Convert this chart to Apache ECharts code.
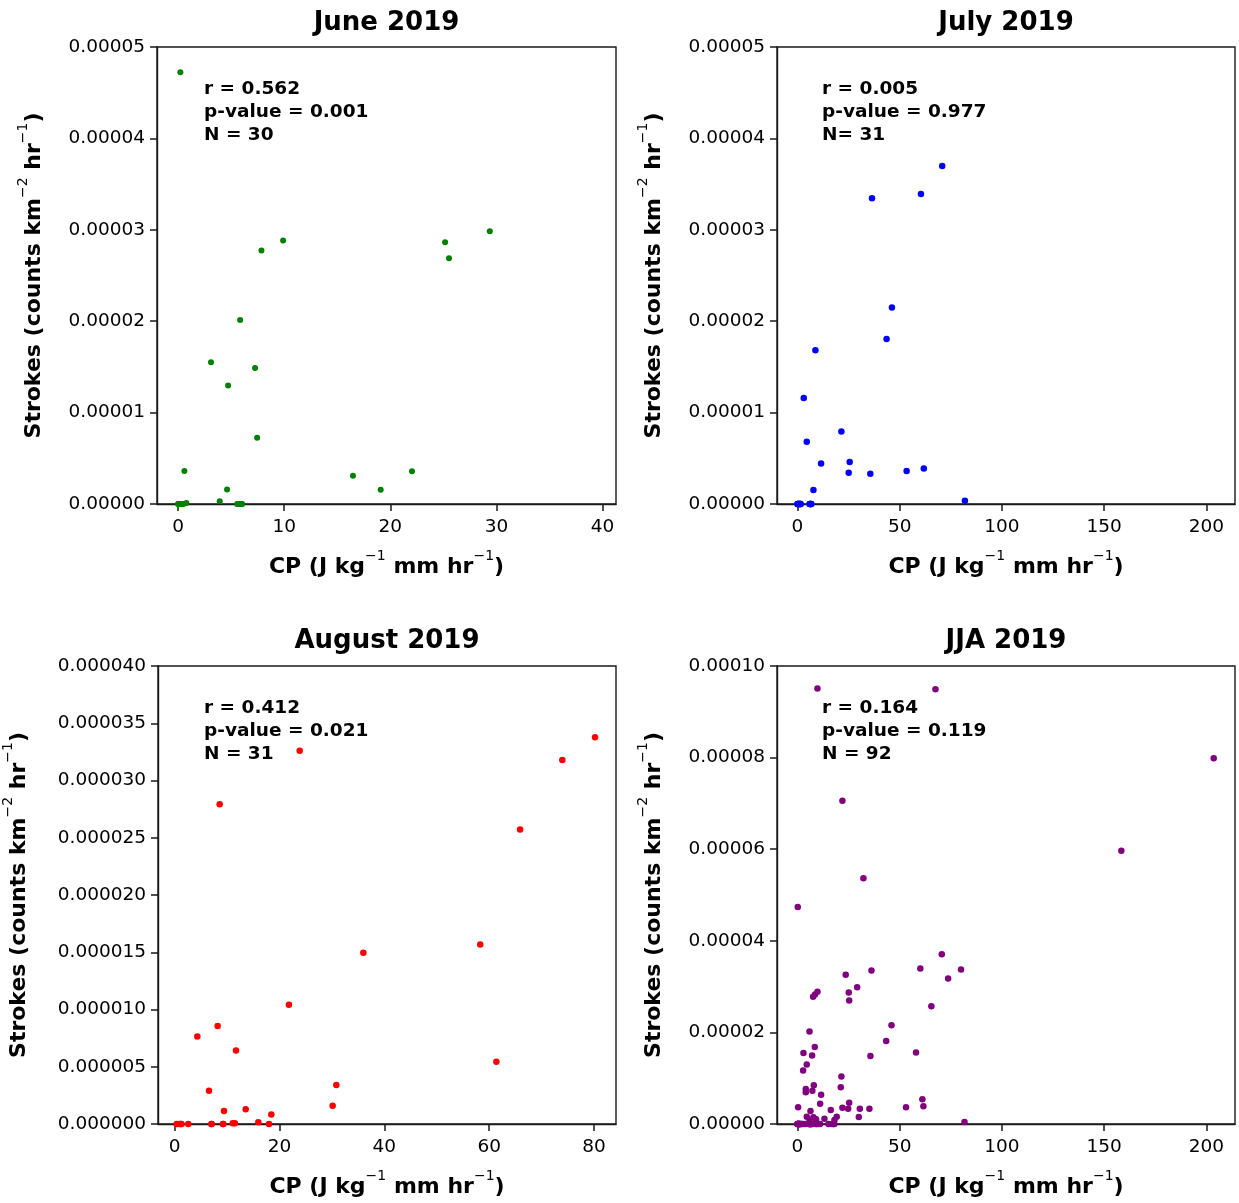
<!DOCTYPE html>
<html>
<head>
<meta charset="utf-8">
<script src="https://cdn.jsdelivr.net/npm/echarts@6/dist/echarts.min.js"></script>
<style>
html,body{margin:0;padding:0;background:#fff;}
#chart{width:1239px;height:1203px;}
</style>
</head>
<body>
<div id="chart"></div>
<script>
// ---------- DATA ----------
const juneCP = [0.22, 7.86, 9.9, 25.16, 25.53, 29.37, 5.85, 3.11, 7.26, 4.72, 7.45, 0.6, 16.48, 22.04, 19.09, 4.62, 3.93, 0, 0.38, 0.79, 5.57, 6.04, 0.1, 0.5, 5.8, 0.2, 0.05, 6.0, 5.7, 0.3];
const juneStrokes = [4.724e-5, 2.773e-5, 2.883e-5, 2.864e-5, 2.690e-5, 2.985e-5, 2.013e-5, 1.551e-5, 1.489e-5, 1.296e-5, 0.724e-5, 0.360e-5, 0.309e-5, 0.357e-5, 0.157e-5, 0.160e-5, 0.03e-5, 0, 0, 0.01e-5, 0, 0, 0, 0, 0, 0, 0, 0, 0, 0];

const julyCP = [70.8, 60.4, 36.45, 46.2, 43.6, 8.79, 3.09, 4.56, 21.48, 11.55, 25.55, 25.06, 35.64, 53.4, 61.8, 7.81, 81.9, 0, 1.6, 6.2, 6.8, 0.3, 0.8, 1.2, 6.5, 0.5, 1.0, 5.9, 0.1, 6.4, 1.4];
const julyStrokes = [3.698e-5, 3.392e-5, 3.345e-5, 2.151e-5, 1.805e-5, 1.682e-5, 1.161e-5, 0.681e-5, 0.793e-5, 0.444e-5, 0.459e-5, 0.342e-5, 0.331e-5, 0.360e-5, 0.389e-5, 0.153e-5, 0.036e-5, 0, 0, 0, 0, 0, 0, 0, 0, 0, 0, 0, 0, 0, 0];

const augCP = [80.2, 73.96, 23.85, 8.58, 65.9, 58.3, 36.0, 21.8, 8.2, 4.32, 11.7, 61.37, 30.84, 6.55, 30.14, 9.41, 13.55, 18.44, 15.96, 0.38, 1.14, 2.6, 7.06, 9.3, 11.07, 11.5, 18.0, 0.9, 1.3, 9.2, 7.0];
const augStrokes = [33.77e-6, 31.79e-6, 32.6e-6, 27.92e-6, 25.71e-6, 15.68e-6, 14.95e-6, 10.41e-6, 8.55e-6, 7.65e-6, 6.43e-6, 5.44e-6, 3.40e-6, 2.91e-6, 1.60e-6, 1.13e-6, 1.28e-6, 0.84e-6, 0.15e-6, 0, 0, 0, 0, 0, 0.06e-6, 0.06e-6, 0, 0, 0, 0, 0];

const jjaCP = [9.78, 67.5, 203.6, 22.0, 158.4, 32.27, 0.16, 70.6, 60.1, 80.0, 36.2, 23.6, 73.7, 29.2, 9.78, 7.66, 8.6, 25.1, 25.3, 65.5, 46.0, 43.4, 5.9, 8.48, 2.93, 7.17, 35.7, 58.0, 4.56, 2.77, 21.5, 21.2, 4.07, 8.0, 4.07, 7.3, 11.57, 61.1, 61.6, 53.1, 0.33, 11.1, 22.0, 25.3, 24.8, 30.5, 35.2, 16.3, 6.37, 30.0, 13.2, 19.2, 81.7, 18.1, 4.56, 7.8, 9.1, 5.9, 0.5, 2.1, 3.75, 7.0, 10.3, 15.2, 16.8, 17.6, 0, 0.38, 0.79, 5.57, 6.04, 1.6, 6.2, 1.14, 2.6, 7.06, 9.3, 11.07, 18.0, 0.9, 0.2, 0.1, 6.8, 1.3, 9.2, 5.8, 0.05, 0.3, 6.0, 1.0, 0.5, 6.4];
const jjaStrokes = [9.508e-5, 9.494e-5, 7.985e-5, 7.06e-5, 5.967e-5, 5.363e-5, 4.736e-5, 3.709e-5, 3.395e-5, 3.373e-5, 3.352e-5, 3.257e-5, 3.177e-5, 2.987e-5, 2.885e-5, 2.776e-5, 2.83e-5, 2.871e-5, 2.696e-5, 2.572e-5, 2.157e-5, 1.814e-5, 2.018e-5, 1.683e-5, 1.552e-5, 1.494e-5, 1.486e-5, 1.559e-5, 1.297e-5, 1.166e-5, 1.035e-5, 0.80e-5, 0.765e-5, 0.845e-5, 0.692e-5, 0.728e-5, 0.641e-5, 0.539e-5, 0.386e-5, 0.365e-5, 0.364e-5, 0.444e-5, 0.357e-5, 0.466e-5, 0.335e-5, 0.335e-5, 0.335e-5, 0.306e-5, 0.284e-5, 0.153e-5, 0.117e-5, 0.160e-5, 0.044e-5, 0.087e-5, 0.160e-5, 0.146e-5, 0.102e-5, 0.087e-5, 0, 0, 0, 0, 0, 0, 0, 0, 0, 0, 0, 0, 0, 0, 0, 0, 0, 0, 0, 0, 0, 0, 0, 0, 0, 0, 0, 0, 0, 0, 0, 0, 0, 0];

const titles = ['June 2019', 'July 2019', 'August 2019', 'JJA 2019'];
const statsText = [
  'r = 0.562\np-value = 0.001\nN = 30',
  'r = 0.005\np-value = 0.977\nN= 31',
  'r = 0.412\np-value = 0.021\nN = 31',
  'r = 0.164\np-value = 0.119\nN = 92'
];
const juneXTicks = [0, 10, 20, 30, 40];
const julyXTicks = [0, 50, 100, 150, 200];
const augXTicks = [0, 20, 40, 60, 80];
const jjaXTicks = [0, 50, 100, 150, 200];
const juneYMax = 0.00005, juneYStep = 0.00001;
const julyYMax = 0.00005, julyYStep = 0.00001;
const augYMax = 0.00004, augYStep = 0.000005;
const jjaYMax = 0.0001, jjaYStep = 0.00002;

// ---------- CHART ----------
const FONT = 'DejaVu Sans';
const AX = '#1a1a1a';
const zip = (a, b) => a.map((v, i) => [v, b[i]]);

const grids = [
  {left: 157, top: 47, width: 459, height: 457},
  {left: 777, top: 47, width: 458, height: 457},
  {left: 158, top: 666, width: 458, height: 458},
  {left: 777, top: 666, width: 458, height: 458}
].map(g => Object.assign(g, {show: true, borderColor: AX, borderWidth: 1.4, backgroundColor: 'transparent'}));

const richName = {
  b: {fontSize: 22, fontWeight: 'bold', fontFamily: FONT, color: '#000', verticalAlign: 'bottom', lineHeight: 26},
  s: {fontSize: 14, fontFamily: FONT, color: '#000', verticalAlign: 'bottom', lineHeight: 16, padding: [0, 0, 15, 0]}
};
const xName = '{b|CP (J kg}{s|−1}{b| mm hr}{s|−1}{b|)}';
const yName = '{b|Strokes (counts km}{s|−2}{b| hr}{s|−1}{b|)}';

function makeX(gi, min, max, ticks) {
  return {
    type: 'value', gridIndex: gi, min: min, max: max,
    name: xName, nameLocation: 'middle', nameGap: 48,
    nameTextStyle: {rich: richName},
    axisLine: {show: true, onZero: false, lineStyle: {color: AX, width: 1.4}},
    axisTick: {show: true, inside: false, length: 7, customValues: ticks, lineStyle: {color: AX, width: 1.5}},
    axisLabel: {show: true, customValues: ticks, margin: 14, fontSize: 18.5, fontFamily: FONT, color: '#000'},
    splitLine: {show: false}
  };
}
function makeY(gi, max, step, dec, gap) {
  return {
    type: 'value', gridIndex: gi, min: 0, max: max, interval: step,
    name: yName, nameLocation: 'middle', nameGap: gap, nameRotate: 90,
    nameTextStyle: {rich: richName},
    axisLine: {show: true, onZero: false, lineStyle: {color: AX, width: 1.4}},
    axisTick: {show: true, inside: false, length: 7, lineStyle: {color: AX, width: 1.5}},
    axisLabel: {show: true, margin: 12, fontSize: 18.5, fontFamily: FONT, color: '#000',
      formatter: v => v.toFixed(dec)},
    splitLine: {show: false}
  };
}

const xAxes = [
  makeX(0, -1.98, 41.26, juneXTicks),
  makeX(1, -10, 214, julyXTicks),
  makeX(2, -3.18, 84.2, augXTicks),
  makeX(3, -10, 214, jjaXTicks)
];
const yAxes = [
  makeY(0, juneYMax, juneYStep, 5, 112),
  makeY(1, julyYMax, julyYStep, 5, 112),
  makeY(2, augYMax, augYStep, 6, 128),
  makeY(3, jjaYMax, jjaYStep, 5, 112)
];

const colors = ['#008000', '#0000ff', '#ff0000', '#800080'];
const datasets = [zip(juneCP, juneStrokes), zip(julyCP, julyStrokes), zip(augCP, augStrokes), zip(jjaCP, jjaStrokes)];
const series = datasets.map((d, i) => ({
  type: 'scatter', xAxisIndex: i, yAxisIndex: i, data: d,
  symbol: 'circle', symbolSize: i === 0 ? 6 : 6.5,
  itemStyle: {color: colors[i], opacity: 1},
  clip: true, silent: true, animation: false
}));

const titleCenters = [[386.5, 10], [1006, 10], [387, 628], [1006, 628]];
const title = titles.map((t, i) => ({
  text: t, left: titleCenters[i][0], top: titleCenters[i][1], textAlign: 'center', padding: 0,
  textStyle: {fontSize: 26, fontWeight: 'bold', fontFamily: FONT, color: '#000'}
}));

const statPos = [[204, 78], [822, 78], [204, 697], [822, 697]];
const graphic = statsText.map((t, i) => ({
  type: 'text', left: statPos[i][0], top: statPos[i][1], silent: true,
  style: {text: t, fontSize: 18.5, fontWeight: 'bold', fontFamily: FONT, fill: '#000', lineHeight: 23}
}));

const chart = echarts.init(document.getElementById('chart'), null, {renderer: 'canvas'});
chart.setOption({
  animation: false,
  backgroundColor: '#fff',
  title: title,
  grid: grids,
  xAxis: xAxes,
  yAxis: yAxes,
  series: series,
  graphic: graphic
});
</script>
</body>
</html>
